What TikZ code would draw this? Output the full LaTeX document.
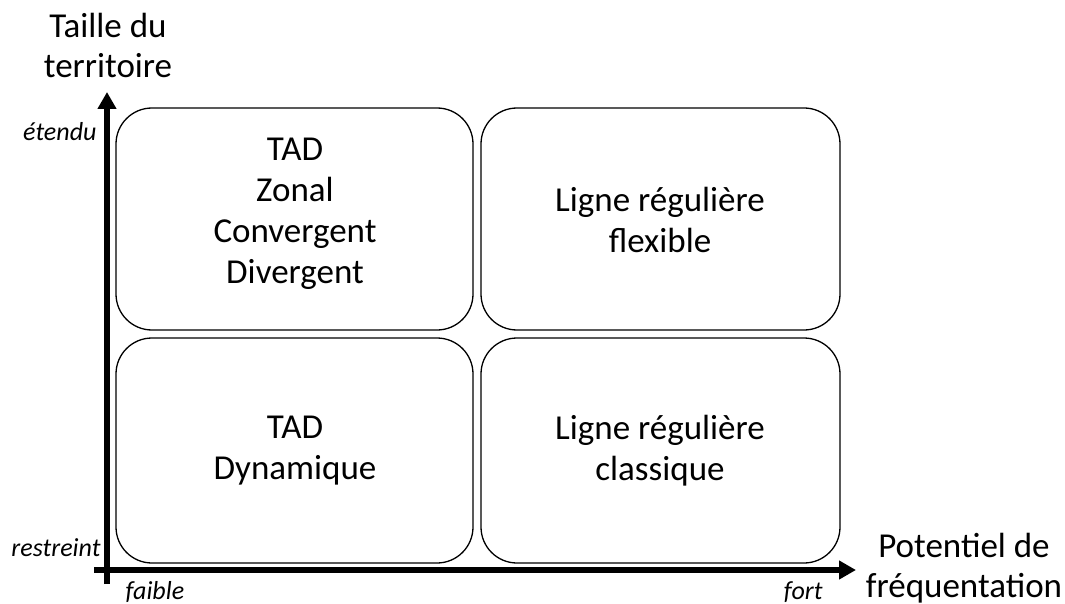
\documentclass[tikz,border=0pt]{standalone}
\usepackage{fontspec}
\setmainfont{Carlito}
\usetikzlibrary{arrows.meta}
\begin{document}
\begin{tikzpicture}[x=1pt,y=-1pt,
  cell/.style={draw=black,line width=1.3pt,rounded corners=36pt},
  celltext/.style={align=center,font=\fontsize{35}{41}\selectfont},
  axis/.style={line width=5.4pt,-{Triangle[length=17pt,width=18pt]}},
  ticklbl/.style={font=\fontsize{26}{30}\selectfont\itshape},
  axlbl/.style={align=center,font=\fontsize{35}{40}\selectfont}]
\useasboundingbox (0,0) rectangle (1065,604);
% boxes
\draw[cell] (116,108) rectangle (473,330);
\draw[cell] (481,108) rectangle (840,330);
\draw[cell] (116,338) rectangle (473,563);
\draw[cell] (481,338) rectangle (840,563);
\node[celltext] (a) at (295,214) {TAD\\Zonal\\Convergent\\Divergent};
\node[celltext] (b) at (660,220) {Ligne régulière\\flexible};
\node[celltext] (c) at (295,451) {TAD\\Dynamique};
\node[celltext] (d) at (660,451) {Ligne régulière\\classique};
% axes
\coordinate (vb) at (107,584);
\coordinate (vt) at (107,92);
\coordinate (hl) at (94,570);
\coordinate (hr) at (856,570);
\draw[axis] (vb) -- (vt);
\draw[axis] (hl) -- (hr);
% labels
\node[ticklbl,anchor=east] (et) at (100,132) {étendu};
\node[ticklbl,anchor=east] (re) at (104,548) {restreint};
\node[ticklbl,anchor=west] (fa) at (122,592) {faible};
\node[ticklbl,anchor=east] (fo) at (826,592) {fort};
\node[axlbl] (ty) at (108,45) {Taille du\\territoire};
\node[axlbl] (tx) at (964,568) {Potentiel de\\fréquentation};
\end{tikzpicture}
\end{document}
